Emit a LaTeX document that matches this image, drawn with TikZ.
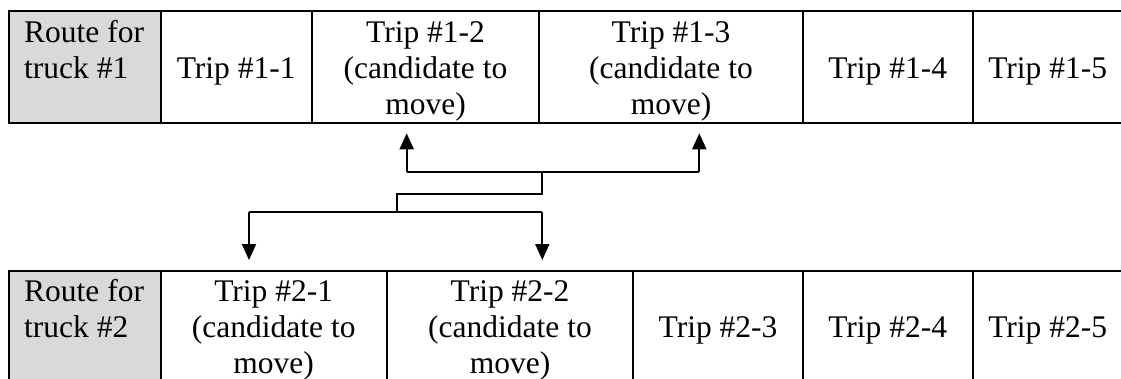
\documentclass[tikz,border=0pt]{standalone}
\usepackage{fontspec}
\setmainfont{Liberation Serif}
\usetikzlibrary{arrows.meta}
\definecolor{hdr}{HTML}{D9D9D9}
\begin{document}
\begin{tikzpicture}[x=1pt,y=-1pt,
  cellbox/.style={draw=black, line width=2.2pt, inner sep=0pt, outer sep=0pt, minimum height=111.7pt, anchor=north west},
  hdrbox/.style={cellbox, fill=hdr},
  txt/.style={inner sep=0pt, anchor=north, align=center, font=\fontsize{31.5}{36}\selectfont},
  ltxt/.style={txt, anchor=north west, align=left},
  wire/.style={line width=1.9pt, line join=miter},
  arr/.style={wire, -{Triangle[length=16pt,width=14pt]}}]
\useasboundingbox (0,0) rectangle (1121,378);
% top row
\node[hdrbox, minimum width=151.7pt] (a0) at (9,11) {};
\node[cellbox, minimum width=151pt] (a1) at (160.7,11) {};
\node[cellbox, minimum width=227.6pt] (a2) at (311.7,11) {};
\node[cellbox, minimum width=263.4pt] (a3) at (539.3,11) {};
\node[cellbox, minimum width=170pt] (a4) at (802.7,11) {};
\node[cellbox, minimum width=150pt] (a5) at (972.7,11) {};
\node[ltxt] (ta0) at (24,16.8) {\strut Route for\\truck \#1};
\node[txt] (ta1) at (236.2,52.8) {\strut Trip \#1-1};
\node[txt] (ta2) at (425.5,16.8) {\strut Trip \#1-2\\(candidate to\\move)};
\node[txt] (ta3) at (671,16.8) {\strut Trip \#1-3\\(candidate to\\move)};
\node[txt] (ta4) at (887.7,52.8) {\strut Trip \#1-4};
\node[txt] (ta5) at (1047.7,52.8) {\strut Trip \#1-5};
% bottom row
\node[hdrbox, minimum width=151.7pt] (b0) at (9,270.7) {};
\node[cellbox, minimum width=226pt] (b1) at (160.7,270.7) {};
\node[cellbox, minimum width=246.6pt] (b2) at (386.7,270.7) {};
\node[cellbox, minimum width=169.4pt] (b3) at (633.3,270.7) {};
\node[cellbox, minimum width=170pt] (b4) at (802.7,270.7) {};
\node[cellbox, minimum width=150pt] (b5) at (972.7,270.7) {};
\node[ltxt] (tb0) at (24,276) {\strut Route for\\truck \#2};
\node[txt] (tb1) at (273.7,276) {\strut Trip \#2-1\\(candidate to\\move)};
\node[txt] (tb2) at (510,276) {\strut Trip \#2-2\\(candidate to\\move)};
\node[txt] (tb3) at (718,312) {\strut Trip \#2-3};
\node[txt] (tb4) at (887.7,312) {\strut Trip \#2-4};
\node[txt] (tb5) at (1047.7,312) {\strut Trip \#2-5};
% connectors
\coordinate (ua) at (406.7,172.3);
\coordinate (ub) at (699.3,172.3);
\coordinate (um) at (542.3,172.3);
\coordinate (lm) at (396.7,212.3);
\coordinate (la) at (249,212.3);
\coordinate (lb) at (542.3,212.3);
\draw[wire] (ua) -- (ub);
\draw[wire] (um) -- ++(0,22) -| (lm);
\draw[wire] (la) -- (lb);
\draw[arr] (ua) -- ([yshift=-10.6pt]ua |- a2.south);
\draw[arr] (ub) -- ([yshift=-10.6pt]ub |- a3.south);
\draw[arr] (la) -- ([yshift=10.7pt]la |- b1.north);
\draw[arr] (lb) -- ([yshift=10.7pt]lb |- b2.north);
\end{tikzpicture}
\end{document}
